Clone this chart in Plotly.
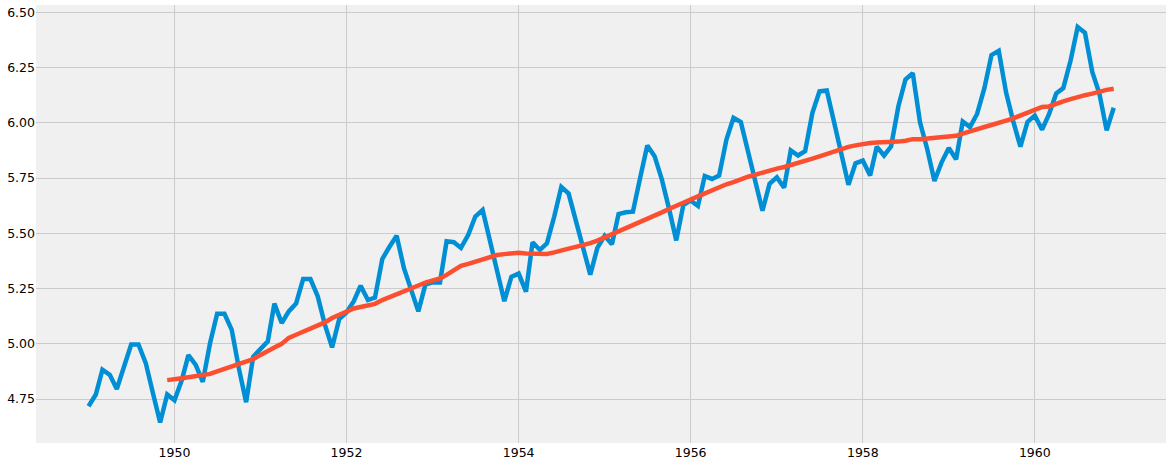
import plotly.graph_objects as go
import pandas as pd

log_passengers = [
    4.718, 4.771, 4.883, 4.860, 4.796, 4.905, 4.997, 4.997, 4.913, 4.779, 4.644, 4.771,
    4.745, 4.836, 4.949, 4.905, 4.828, 5.004, 5.136, 5.136, 5.063, 4.890, 4.736, 4.942,
    4.977, 5.011, 5.182, 5.094, 5.147, 5.182, 5.293, 5.293, 5.215, 5.088, 4.984, 5.112,
    5.142, 5.193, 5.263, 5.198, 5.209, 5.384, 5.438, 5.489, 5.342, 5.252, 5.147, 5.268,
    5.278, 5.278, 5.464, 5.460, 5.434, 5.493, 5.576, 5.606, 5.468, 5.352, 5.193, 5.303,
    5.318, 5.236, 5.460, 5.425, 5.455, 5.576, 5.710, 5.680, 5.557, 5.434, 5.313, 5.434,
    5.489, 5.451, 5.587, 5.595, 5.598, 5.753, 5.897, 5.849, 5.743, 5.613, 5.468, 5.628,
    5.649, 5.624, 5.759, 5.746, 5.762, 5.924, 6.023, 6.004, 5.872, 5.724, 5.602, 5.724,
    5.753, 5.707, 5.875, 5.852, 5.872, 6.045, 6.142, 6.146, 6.001, 5.849, 5.720, 5.817,
    5.829, 5.762, 5.892, 5.852, 5.894, 6.075, 6.196, 6.225, 6.001, 5.883, 5.737, 5.820,
    5.886, 5.835, 6.006, 5.981, 6.040, 6.157, 6.306, 6.326, 6.138, 6.009, 5.892, 6.004,
    6.033, 5.969, 6.038, 6.133, 6.157, 6.282, 6.433, 6.407, 6.230, 6.133, 5.966, 6.068,
]
moving_average = [
    4.836,
    4.838, 4.844, 4.849, 4.853, 4.856, 4.864, 4.876, 4.887, 4.900, 4.909, 4.917, 4.931,
    4.950, 4.965, 4.984, 5.000, 5.027, 5.041, 5.054, 5.068, 5.080, 5.097, 5.117, 5.132,
    5.145, 5.160, 5.167, 5.176, 5.181, 5.198, 5.210, 5.226, 5.237, 5.251, 5.264, 5.277,
    5.288, 5.296, 5.312, 5.334, 5.353, 5.362, 5.373, 5.383, 5.394, 5.402, 5.406, 5.409,
    5.412, 5.409, 5.408, 5.405, 5.407, 5.414, 5.425, 5.431, 5.439, 5.446, 5.456, 5.467,
    5.481, 5.499, 5.509, 5.523, 5.535, 5.550, 5.566, 5.580, 5.595, 5.610, 5.623, 5.639,
    5.653, 5.667, 5.681, 5.694, 5.708, 5.722, 5.732, 5.745, 5.756, 5.765, 5.776, 5.784,
    5.793, 5.800, 5.810, 5.819, 5.828, 5.838, 5.848, 5.860, 5.870, 5.881, 5.891, 5.898,
    5.905, 5.909, 5.911, 5.911, 5.912, 5.915, 5.919, 5.926, 5.926, 5.929, 5.930, 5.931,
    5.935, 5.941, 5.951, 5.962, 5.974, 5.981, 5.990, 5.998, 6.010, 6.020, 6.033, 6.048,
    6.061, 6.072, 6.074, 6.087, 6.097, 6.107, 6.118, 6.125, 6.132, 6.143, 6.149, 6.154,
]
months = pd.date_range("1949-01-01", periods=len(log_passengers), freq="MS")
x_ticks = ["1950-01-01", "1952-01-01", "1954-01-01", "1956-01-01", "1958-01-01", "1960-01-01"]
x_tick_labels = ["1950", "1952", "1954", "1956", "1958", "1960"]
y_ticks = [4.75, 5.00, 5.25, 5.50, 5.75, 6.00, 6.25, 6.50]
y_tick_labels = ["4.75", "5.00", "5.25", "5.50", "5.75", "6.00", "6.25", "6.50"]

fig = go.Figure()
fig.add_trace(go.Scatter(x=months, y=log_passengers, mode="lines",
                         line=dict(color="#008fd5", width=4.5), showlegend=False))
fig.add_trace(go.Scatter(x=months[11:], y=moving_average, mode="lines",
                         line=dict(color="#fc4f30", width=4.5), showlegend=False))
fig.update_layout(
    width=1171, height=465,
    margin=dict(l=36, r=4.5, t=5, b=22, pad=0, autoexpand=False),
    paper_bgcolor="white", plot_bgcolor="#f0f0f0",
    font=dict(family="DejaVu Sans", size=12.5, color="black"),
    xaxis=dict(type="date", range=["1948-05-23", "1961-07-11"], tickmode="array",
               tickvals=x_ticks, ticktext=x_tick_labels, gridcolor="#cbcbcb", gridwidth=1,
               showline=False, zeroline=False, ticks="", automargin=False),
    yaxis=dict(range=[4.5515, 6.533], tickmode="array", tickvals=y_ticks,
               ticktext=y_tick_labels, gridcolor="#cbcbcb", gridwidth=1,
               showline=False, zeroline=False, ticks="", automargin=False),
)
fig.write_html("out.html", post_script="document.body.style.margin='0';",
               config=dict(displayModeBar=False))
